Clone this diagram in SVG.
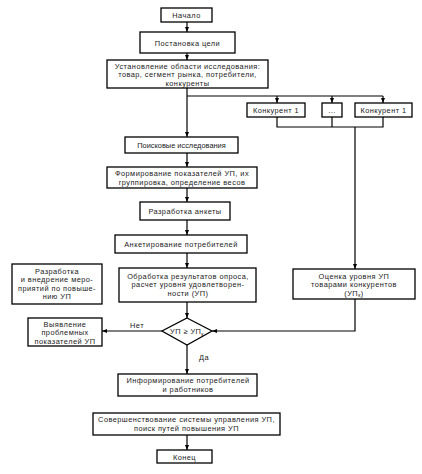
<svg xmlns="http://www.w3.org/2000/svg" width="422" height="474" viewBox="0 0 422 474">
<style>
.b{fill:#fff;stroke:#000;stroke-width:1.3}
.t{font-family:"Liberation Sans",Arial,sans-serif;font-size:7.4px;letter-spacing:0.45px;fill:#1a1a1a;text-anchor:middle}
.s{letter-spacing:0}
.l{fill:none;stroke:#000;stroke-width:1.2}
</style>
<defs>
<marker id="a" viewBox="0 0 10 10" refX="10" refY="5" markerWidth="5" markerHeight="5" orient="auto" markerUnits="userSpaceOnUse">
<path d="M0,1 L10,5 L0,9 Z" fill="#000"/>
</marker>
</defs>
<rect width="422" height="474" fill="#fff"/>
<g id="connectors">
<line class="l" x1="187" y1="22" x2="187" y2="32" marker-end="url(#a)"/>
<line class="l" x1="187" y1="53" x2="187" y2="60" marker-end="url(#a)"/>
<line class="l" x1="187" y1="88" x2="187" y2="137" marker-end="url(#a)"/>
<polyline class="l" points="187,96 383,96"/>
<line class="l" x1="277" y1="96" x2="277" y2="103" marker-end="url(#a)"/>
<line class="l" x1="332" y1="96" x2="332" y2="103" marker-end="url(#a)"/>
<line class="l" x1="383" y1="96" x2="383" y2="103" marker-end="url(#a)"/>
<polyline class="l" points="277,117 277,127 383,127 383,117"/>
<line class="l" x1="332" y1="117" x2="332" y2="127"/>
<line class="l" x1="355" y1="127" x2="355" y2="269" marker-end="url(#a)"/>
<line class="l" x1="187" y1="153" x2="187" y2="167" marker-end="url(#a)"/>
<line class="l" x1="187" y1="188" x2="187" y2="202" marker-end="url(#a)"/>
<line class="l" x1="187" y1="220" x2="187" y2="235" marker-end="url(#a)"/>
<line class="l" x1="187" y1="253" x2="187" y2="268" marker-end="url(#a)"/>
<line class="l" x1="187" y1="302" x2="187" y2="318" marker-end="url(#a)"/>
<polyline class="l" points="355,299 355,331 212,331" marker-end="url(#a)"/>
<line class="l" x1="162" y1="331" x2="102" y2="331" marker-end="url(#a)"/>
<line class="l" x1="187" y1="345" x2="187" y2="374" marker-end="url(#a)"/>
<line class="l" x1="187" y1="435" x2="187" y2="450" marker-end="url(#a)"/>
<text class="t" x="137" y="328">Нет</text>
<text class="t" x="204" y="360">Да</text>
</g>
<g id="start"><rect class="b" x="161" y="8" width="51" height="14"/><text class="t" x="186.5" y="18">Начало</text></g>
<g id="goal"><rect class="b" x="140" y="32" width="95" height="21"/><text class="t" x="187.5" y="45.5">Постановка цели</text></g>
<g id="scope"><rect class="b" x="107" y="60" width="161" height="28"/>
<text class="t" x="187.5" y="68.5">Установление области исследования:</text>
<text class="t" x="187.5" y="77">товар, сегмент рынка, потребители,</text>
<text class="t" x="187.5" y="85.5">конкуренты</text></g>
<g id="comp1"><rect class="b" x="247" y="103" width="58" height="14"/><text class="t" x="276" y="113">Конкурент 1</text></g>
<g id="compdots"><rect class="b" x="322" y="103" width="20" height="14"/><text class="t" x="332" y="113">...</text></g>
<g id="comp2"><rect class="b" x="355" y="103" width="57" height="14"/><text class="t" x="383.5" y="113">Конкурент 1</text></g>
<g id="search"><rect class="b" x="125" y="137" width="113" height="16"/><text class="t s" x="181.5" y="148">Поисковые исследования</text></g>
<g id="indicators"><rect class="b" x="107" y="167" width="150" height="21"/>
<text class="t" x="182" y="176">Формирование показателей УП, их</text>
<text class="t" x="182" y="184.5">группировка, определение весов</text></g>
<g id="questionnaire"><rect class="b" x="140" y="202" width="90" height="18"/><text class="t" x="185" y="214">Разработка анкеты</text></g>
<g id="survey"><rect class="b" x="115" y="235" width="132" height="18"/><text class="t" x="181" y="247">Анкетирование потребителей</text></g>
<g id="measures"><rect class="b" x="12" y="264" width="90" height="40"/>
<text class="t" x="57" y="273.5">Разработка</text>
<text class="t" x="57" y="282">и внедрение меро-</text>
<text class="t" x="57" y="290.5">приятий по повыше-</text>
<text class="t" x="57" y="299">нию УП</text></g>
<g id="processing"><rect class="b" x="119" y="268" width="137" height="34"/>
<text class="t" x="188" y="278.5">Обработка результатов опроса,</text>
<text class="t" x="188" y="287">расчет уровня удовлетворен-</text>
<text class="t" x="188" y="295.5">ности (УП)</text></g>
<g id="competitors-eval"><rect class="b" x="293" y="269" width="122" height="30"/>
<text class="t" x="354" y="278.5">Оценка уровня УП</text>
<text class="t" x="354" y="287">товарами конкурентов</text>
<text class="t" x="354" y="295.5">(УП<tspan font-size="5" dy="1.5">к</tspan><tspan dy="-1.5">)</tspan></text></g>
<g id="decision"><polygon class="b" points="187,318 212,331 187,345 162,331"/>
<text class="t" x="187" y="334">УП ≥ УП<tspan font-size="5" dy="1.5">к</tspan></text></g>
<g id="problems"><rect class="b" x="28" y="318" width="74" height="28"/>
<text class="t" x="65" y="326.5">Выявление</text>
<text class="t" x="65" y="335">проблемных</text>
<text class="t" x="65" y="343.5">показателей УП</text></g>
<g id="inform"><rect class="b" x="118" y="374" width="139" height="22"/>
<text class="t" x="188" y="383">Информирование потребителей</text>
<text class="t" x="188" y="391.5">и работников</text></g>
<g id="improve"><rect class="b" x="93" y="413" width="187" height="22"/>
<text class="t" x="186.5" y="422">Совершенствование системы управления УП,</text>
<text class="t" x="186.5" y="430.5">поиск путей повышения УП</text></g>
<g id="end"><rect class="b" x="157" y="450" width="55" height="13"/><text class="t" x="184.5" y="459.5">Конец</text></g>
</svg>
